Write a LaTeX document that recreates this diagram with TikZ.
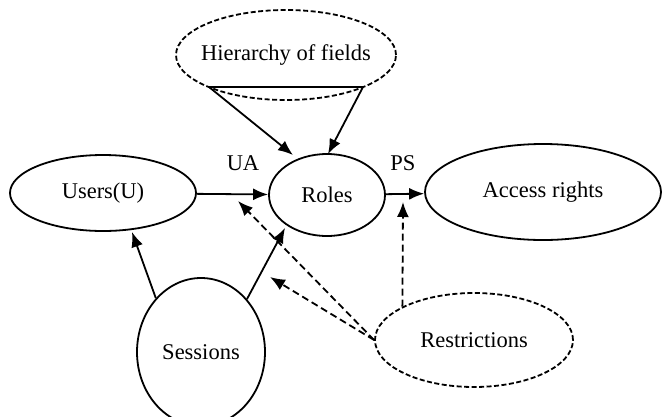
\documentclass[tikz,border=0pt]{standalone}
\usepackage{fontspec}
\setmainfont{Liberation Serif}
\usetikzlibrary{shapes.geometric,arrows.meta}
\begin{document}
\begin{tikzpicture}[x=1pt,y=-1pt,
  txt/.style={font=\fontsize{22.5}{26}\selectfont},
  every node/.style={txt},
  ell/.style={ellipse,draw,line width=1.8pt,inner sep=0pt,
    label={[txt,inner sep=0pt]center:#1}},
  dell/.style={ell=#1,dash pattern=on 5pt off 2.5pt},
  arr/.style={line width=1.8pt,-{Latex[length=15pt,width=12pt]}},
  darr/.style={arr,dash pattern=on 7pt off 4pt},
  lbl/.style={inner sep=0pt}]
\useasboundingbox (0,0) rectangle (662,416);
\node[dell={Hierarchy of fields},minimum width=220pt,minimum height=90pt] (hier) at (286,55) {};
\node[ell={Users(U)},minimum width=186pt,minimum height=76pt] (users) at (103,193) {};
\node[ell={Roles},minimum width=116pt,minimum height=82pt] (roles) at (327,195) {};
\node[ell={Access rights},minimum width=236pt,minimum height=96pt] (access) at (543,192) {};
\node[ell={Sessions},minimum width=128pt,minimum height=148pt] (sessions) at (201,352) {};
\node[dell={Restrictions},minimum width=198pt,minimum height=94pt] (restr) at (474,340) {};
\node[lbl] (ua) at (243,163) {UA};
\node[lbl] (ps) at (403,163) {PS};
% chord and cone
\coordinate (hl) at (209,87);
\coordinate (hr) at (363,87);
\draw[line width=1.8pt] (hl) -- (hr);
\coordinate (rt1) at (293,155);
\coordinate (rt2) at (328,154);
\draw[arr] (hl) -- (rt1);
\draw[arr] (hr) -- (rt2);
% main flow
\draw[arr] (users) -- (roles);
\draw[arr] (roles) -- (access);
% sessions
\coordinate (ut) at (132,232);
\coordinate (rb) at (285,228);
\draw[arr] (sessions.130) -- (ut);
\draw[arr] (sessions.49) -- (rb);
% restrictions
\coordinate (pt1) at (403,202);
\coordinate (pt2) at (238,201);
\coordinate (pt3) at (270,277);
\draw[darr] (restr.155) -- (pt1);
\draw[darr] (restr.west) -- (pt2);
\draw[darr] (restr.west) -- (pt3);
\end{tikzpicture}
\end{document}
